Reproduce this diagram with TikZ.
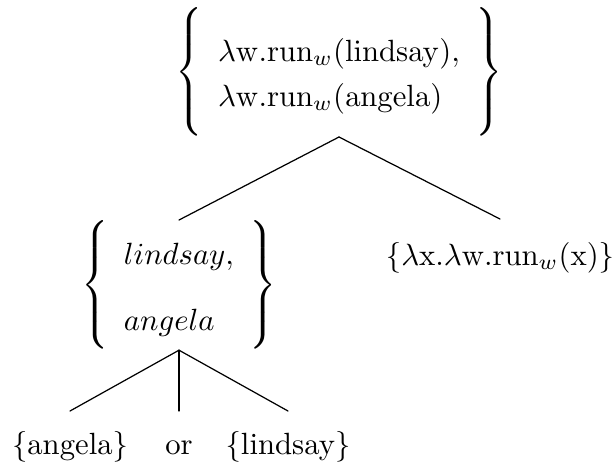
\documentclass[tikz,border=0pt]{standalone}
\usepackage{amsmath}
\usepackage{tikz}

% a braced column of rows: brace size, drop of the rows, rows
\newcommand{\braced}[3]{%
  {\delimiterfactor=1000 \delimitershortfall=0pt
  $\left\{\vcenter{\hbox{\rule{0pt}{#1}}}%
  \raisebox{-#2}{$\begin{array}{l}#3\end{array}$}\right\}$}}

\begin{document}
\begin{tikzpicture}[x=0.3257pt,y=-0.3257pt,line cap=round,
  set/.style={inner sep=0pt},
  leaf/.style={inner sep=0pt,anchor=north,text height=13.9pt,text depth=3pt}]
  \useasboundingbox (0,0) rectangle (616,468);

  % root
  \node[set,anchor=south] (root) at (339,137)
    {\braced{40pt}{1.4pt}{\lambda\mathrm{w.run}_w(\mathrm{lindsay}),\\[2.7pt]
      \lambda\mathrm{w.run}_w(\mathrm{angela})}};

  % daughters
  \node[set,anchor=north] (subj) at (179,220)
    {\braced{40pt}{1.55pt}{lindsay,\\[9.5pt] angela}};
  \node[set,anchor=north,text height=14.8pt,text depth=3pt] (pred) at (500,219)
    {\{$\lambda$x.$\lambda$w.run$_w$(x)\}};

  % leaves under the subject
  \node[leaf] (ang) at (70,411) {\{angela\}};
  \node[leaf] (or) at (179,411) {or};
  \node[leaf] (lin) at (288,411) {\{lindsay\}};

  % branches
  \draw (root.south) -- (subj.north);
  \draw (root.south) -- (pred.north);
  \foreach \n in {ang,or,lin}{
    \draw (subj.south) -- (\n.north);
  }
\end{tikzpicture}
\end{document}
